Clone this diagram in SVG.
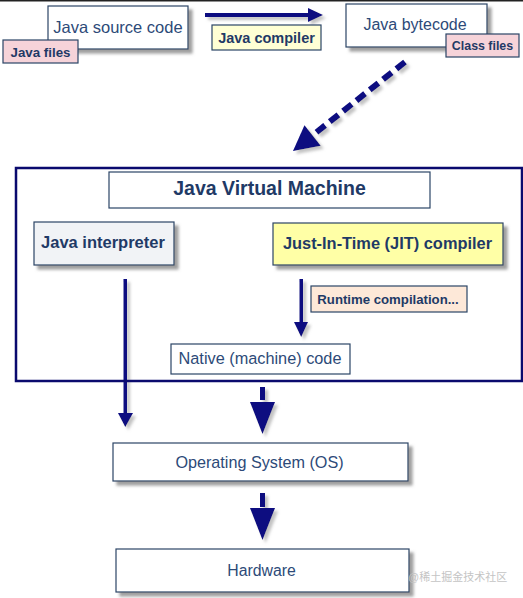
<svg xmlns="http://www.w3.org/2000/svg" width="523" height="598" viewBox="0 0 523 598">
<defs>
<filter id="sh" x="-10%" y="-10%" width="130%" height="150%">
<feDropShadow dx="4" dy="4" stdDeviation="1.6" flood-color="#7f7f7f" flood-opacity="0.75"/>
</filter>
<filter id="ash" x="-30%" y="-30%" width="160%" height="160%">
<feDropShadow dx="3" dy="3" stdDeviation="1.5" flood-color="#9a9a9a" flood-opacity="0.6"/>
</filter>
<style>
.box{stroke:#2b4566;stroke-width:1.2}
.t{font-family:"Liberation Sans",Arial,sans-serif;fill:#2d4a78;text-anchor:middle}
.b{font-family:"Liberation Sans",Arial,sans-serif;fill:#1f3a66;font-weight:bold;text-anchor:middle}
.ar{fill:#0a0a80}
</style>
</defs>
<rect x="0" y="0" width="523" height="598" fill="#ffffff"/>
<rect x="0" y="0" width="523" height="1.5" fill="#222222"/>

<g id="connectors">
<g filter="url(#ash)">
<rect class="ar" x="205" y="13" width="105" height="4"/>
<polygon class="ar" points="308,8 323,15 308,22"/>
</g>
<g filter="url(#ash)">
<line x1="405" y1="62" x2="313" y2="135" stroke="#0a0a80" stroke-width="6" stroke-dasharray="11,6"/>
<polygon class="ar" points="293,151 320.7,145.7 304.5,125.3"/>
</g>
<g filter="url(#ash)">
<rect class="ar" x="123.5" y="279" width="3.5" height="136"/>
<polygon class="ar" points="118,413 133,413 125.3,427"/>
</g>
<g filter="url(#ash)">
<rect class="ar" x="299.5" y="279" width="3.5" height="45"/>
<polygon class="ar" points="294,322 308,322 301.2,337"/>
</g>
<g filter="url(#ash)">
<rect class="ar" x="260" y="387" width="5" height="13"/>
<polygon class="ar" points="250,402 275,402 262.5,434"/>
</g>
<g filter="url(#ash)">
<rect class="ar" x="260" y="493" width="5" height="14"/>
<polygon class="ar" points="250,508 275,508 262.5,540"/>
</g>
</g>

<g id="jvm">
<rect x="16" y="168" width="506" height="213" fill="none" stroke="#0a0a6e" stroke-width="2.5"/>
</g>
<g id="jvm-title">
<rect class="box" x="109" y="172" width="321" height="36" fill="#ffffff"/>
<text class="b" x="269.5" y="194.5" font-size="19.5">Java Virtual Machine</text>
</g>

<g id="source">
<rect class="box" x="48" y="6" width="140" height="43" fill="#ffffff" filter="url(#sh)"/>
<text class="t" x="118" y="33" font-size="16.5">Java source code</text>
</g>
<g id="java-files">
<rect class="box" x="3" y="40" width="75" height="23" fill="#f6d3d9"/>
<text class="b" x="40.5" y="56.5" font-size="13.3">Java files</text>
</g>
<g id="java-compiler">
<rect class="box" x="212" y="25" width="109" height="25" fill="#ffffd4"/>
<text class="b" x="266.5" y="42.5" font-size="14.5">Java compiler</text>
</g>
<g id="bytecode">
<rect class="box" x="346" y="4" width="141" height="43" fill="#ffffff" filter="url(#sh)"/>
<text class="t" x="415" y="30" font-size="16">Java bytecode</text>
</g>
<g id="class-files">
<rect class="box" x="446" y="34" width="73" height="23" fill="#f6d3d9"/>
<text class="b" x="482.5" y="50" font-size="12.4">Class files</text>
</g>

<g id="interpreter">
<rect class="box" x="34" y="222" width="140" height="43" fill="#f1f3f6" filter="url(#sh)"/>
<text class="b" x="103" y="247.5" font-size="16.5">Java interpreter</text>
</g>
<g id="jit">
<rect class="box" x="273" y="223" width="230" height="42" fill="#ffffa6" filter="url(#sh)"/>
<text class="b" x="387.5" y="248.5" font-size="16.4">Just-In-Time (JIT) compiler</text>
</g>
<g id="runtime">
<rect class="box" x="311" y="286" width="156" height="26" fill="#fde8d8"/>
<text class="b" x="388" y="304" font-size="13.2">Runtime compilation...</text>
</g>
<g id="native">
<rect class="box" x="171" y="344" width="179" height="30" fill="#ffffff"/>
<text class="t" x="260" y="363.5" font-size="16.3">Native (machine) code</text>
</g>

<g id="os">
<rect class="box" x="113" y="443" width="295" height="38" fill="#ffffff" filter="url(#sh)"/>
<text class="t" x="259.5" y="467.5" font-size="16.2">Operating System (OS)</text>
</g>
<g id="hardware">
<rect class="box" x="116" y="549" width="293" height="43" fill="#ffffff" filter="url(#sh)"/>
<text class="t" x="261.5" y="575.5" font-size="15.8">Hardware</text>
</g>

<text x="408" y="581" font-family="'Liberation Sans','Noto Sans CJK SC',sans-serif" font-size="11" fill="#c4c4c4">@稀土掘金技术社区</text>
</svg>
